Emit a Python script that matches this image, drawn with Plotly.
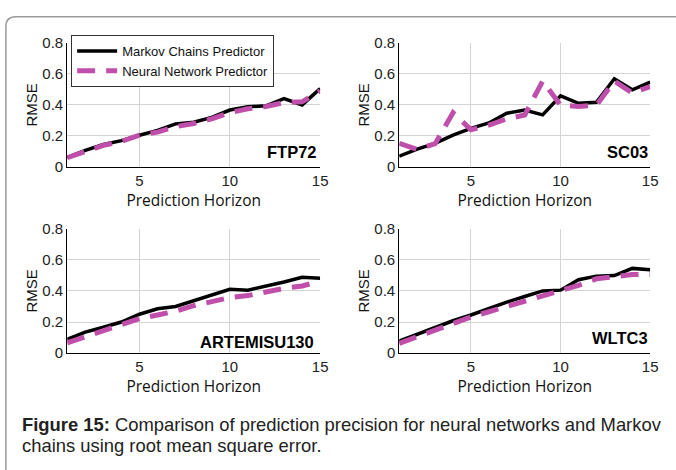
import plotly.graph_objects as go

horizon = list(range(1, 16))

panels = ["FTP72", "SC03", "ARTEMISU130", "WLTC3"]

markov_ftp72 = [0.062, 0.108, 0.145, 0.17, 0.205, 0.236, 0.278, 0.288, 0.32, 0.367, 0.388, 0.394, 0.44, 0.40, 0.505]
neural_ftp72 = [0.06, 0.10, 0.14, 0.165, 0.205, 0.225, 0.26, 0.28, 0.31, 0.35, 0.375, 0.39, 0.415, 0.42, 0.49]

markov_sc03 = [0.07, 0.116, 0.153, 0.205, 0.249, 0.284, 0.346, 0.367, 0.336, 0.458, 0.41, 0.417, 0.568, 0.497, 0.547]
neural_sc03 = [0.153, 0.114, 0.15, 0.35, 0.24, 0.27, 0.31, 0.335, 0.553, 0.398, 0.39, 0.398, 0.553, 0.477, 0.518]

markov_artemis = [0.089, 0.135, 0.166, 0.2, 0.25, 0.285, 0.30, 0.337, 0.37, 0.41, 0.405, 0.43, 0.457, 0.488, 0.482]
neural_artemis = [0.066, 0.104, 0.141, 0.177, 0.222, 0.245, 0.27, 0.305, 0.332, 0.357, 0.37, 0.395, 0.416, 0.432, 0.463]

markov_wltc3 = [0.077, 0.12, 0.166, 0.208, 0.245, 0.287, 0.328, 0.364, 0.40, 0.405, 0.472, 0.495, 0.499, 0.545, 0.536]
neural_wltc3 = [0.062, 0.104, 0.145, 0.19, 0.233, 0.266, 0.30, 0.337, 0.37, 0.40, 0.436, 0.478, 0.488, 0.505, 0.505]

markov_all = [markov_ftp72, markov_sc03, markov_artemis, markov_wltc3]
neural_all = [neural_ftp72, neural_sc03, neural_artemis, neural_wltc3]

y_ticks = [0, 0.2, 0.4, 0.6, 0.8]
y_ticklabels = ["0", "0.2", "0.4", "0.6", "0.8"]
x_ticks = [5, 10, 15]

caption_lines = ["<b>Figure 15:</b> Comparison of prediction precision for neural networks and Markov",
                 "chains using root mean square error."]

W, H = 676, 470
MAGENTA = "#BF4FAA"

# panel pixel boxes: (left, right, top, bottom)
boxes = [(68, 324, 35, 164), (404, 658, 35, 164), (68, 324, 228, 357), (404, 658, 228, 357)]
label_pos = [(0.996, 0.12), (1.0, 0.12), (0.984, 0.09), (1.0, 0.125)]

fig = go.Figure()
for i, (name, mk, nn) in enumerate(zip(panels, markov_all, neural_all)):
    n = "" if i == 0 else str(i + 1)
    xa, ya = "x" + n, "y" + n
    fig.add_trace(go.Scatter(x=horizon, y=mk, mode="lines", xaxis=xa, yaxis=ya,
                             line=dict(color="black", width=3.5),
                             name="Markov Chains Predictor", showlegend=(i == 0)))
    fig.add_trace(go.Scatter(x=horizon, y=nn, mode="lines", xaxis=xa, yaxis=ya,
                             line=dict(color=MAGENTA, width=5, dash="18px,11px"),
                             name="Neural Network Predictor", showlegend=(i == 0)))
    l, r, t, b = boxes[i]
    axcommon = dict(showline=True, linecolor="black", linewidth=1, mirror=False,
                    showgrid=True, gridcolor="#d4d4d4", gridwidth=1, zeroline=False,
                    ticks="", tickfont=dict(family="Liberation Sans, Arial", size=15, color="#222"))
    fig.layout["xaxis" + n] = dict(domain=[l / W, r / W], range=[1, 15], tickvals=x_ticks,
                                   anchor=ya, ticklabelstandoff=0,
                                   title=dict(text="Prediction Horizon", standoff=7,
                                              font=dict(family="Open Sans", size=15.5, color="#111")),
                                   **axcommon)
    fig.layout["yaxis" + n] = dict(domain=[1 - b / H, 1 - t / H], range=[0, 0.8], tickvals=y_ticks,
                                   ticktext=y_ticklabels, anchor=xa, ticklabelstandoff=0,
                                   title=dict(text="RMSE", standoff=1,
                                              font=dict(family="Liberation Sans, Arial", size=15, color="#111")),
                                   **axcommon)
    lx, ly = label_pos[i]
    fig.add_annotation(text="<b>%s</b>" % name, xref=xa + " domain", yref=ya + " domain",
                       x=lx, y=ly, xanchor="right", yanchor="middle", showarrow=False,
                       font=dict(family="Liberation Sans, Arial", size=16.5, color="black"))

for k, (line_text, yc) in enumerate(zip(caption_lines, [431, 453])):
    fig.add_annotation(text=line_text, xref="paper", yref="paper", x=20 / W, y=1 - yc / H,
                       xanchor="left", yanchor="middle", align="left", showarrow=False,
                       font=dict(family="Liberation Sans, Arial", size=18.4, color="#222"))

# figure frame (rounded top-left corner, running off right and bottom edges)
def px(x):
    return x / W

def py(y):
    return 1 - y / H

path = "M %f,%f L %f,%f Q %f,%f %f,%f L %f,%f" % (
    px(6), py(480), px(6), py(18), px(6), py(8), px(16), py(8), px(690), py(8))
fig.add_shape(type="path", path=path, xref="paper", yref="paper",
              line=dict(color="#9a9a9a", width=1.5))

fig.update_layout(
    width=W, height=H, margin=dict(l=0, r=0, t=0, b=0),
    paper_bgcolor="white", plot_bgcolor="white",
    showlegend=True,
    legend=dict(x=72 / W, y=1 - 27 / H, xanchor="left", yanchor="top",
                bgcolor="white", bordercolor="#333", borderwidth=1,
                font=dict(family="Liberation Sans, Arial", size=13, color="#111"),
                itemwidth=40, tracegroupgap=0),
)

fig.write_html("out.html")
